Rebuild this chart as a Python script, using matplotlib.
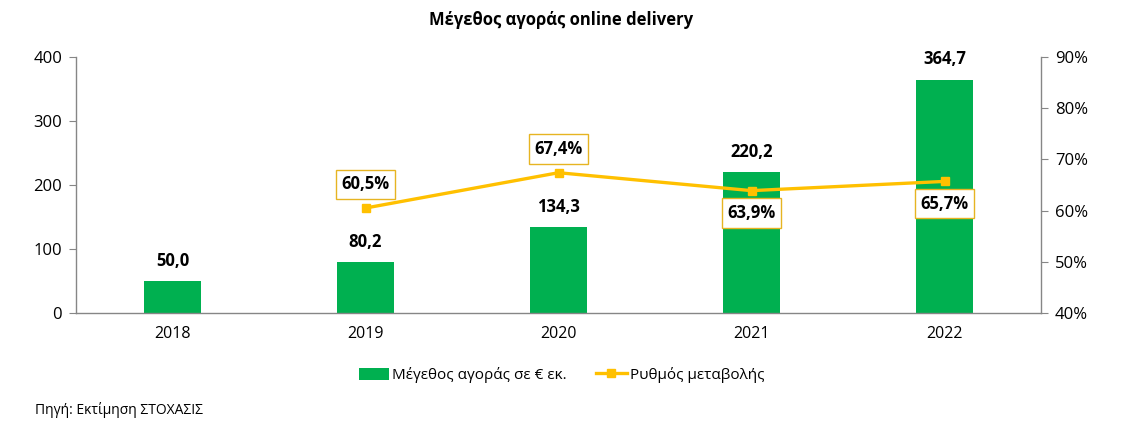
import matplotlib.pyplot as plt
from matplotlib.ticker import FuncFormatter

plt.rcParams['font.family'] = ['Open Sans', 'DejaVu Sans']

# Data
years = ['2018', '2019', '2020', '2021', '2022']
market_size = [50.0, 80.2, 134.3, 220.2, 364.7]
growth_years = ['2019', '2020', '2021', '2022']
growth_rate = [60.5, 67.4, 63.9, 65.7]
growth_label_above = [True, True, False, False]

GREEN = '#00B050'
GOLD = '#FFC000'
GRAY = '#868686'

fig = plt.figure(figsize=(11.23, 4.21), dpi=100)
ax = fig.add_axes([76 / 1123, 1 - 313 / 421, (1041 - 76) / 1123, (313 - 57) / 421])

x = list(range(len(years)))
ax.bar(x, market_size, width=0.3, color=GREEN, label='Μέγεθος αγοράς σε € εκ.', zorder=2)
ax.set_xlim(-0.5, len(years) - 0.5)
ax.set_ylim(0, 400)
ax.set_yticks([0, 100, 200, 300, 400])
ax.set_xticks(x)
ax.set_xticklabels(years)

for xi, v in zip(x, market_size):
    ax.annotate(f'{v:.1f}'.replace('.', ','), (xi, v), xytext=(0, 8), textcoords='offset points',
                ha='center', va='bottom', fontsize=12, fontweight='bold', color='#000000')

ax2 = ax.twinx()
gx = [years.index(y) for y in growth_years]
ax2.plot(gx, growth_rate, color=GOLD, lw=2.4, marker='s', ms=6, label='Ρυθμός μεταβολής', zorder=3)
ax2.set_ylim(40, 90)
ax2.set_yticks([40, 50, 60, 70, 80, 90])
ax2.yaxis.set_major_formatter(FuncFormatter(lambda v, p: f'{v:.0f}%'))

for xi, v, above in zip(gx, growth_rate, growth_label_above):
    off = 17 if above else -16
    ax2.annotate(f'{v:.1f}%'.replace('.', ','), (xi, v), xytext=(0, off), textcoords='offset points',
                 ha='center', va='center', fontsize=12, fontweight='bold', color='#000000',
                 bbox=dict(boxstyle='square,pad=0.35', fc='white', ec='#E6B422', lw=1), zorder=5)

for a in (ax, ax2):
    a.spines['top'].set_visible(False)
    for s in ('left', 'right', 'bottom'):
        a.spines[s].set_color(GRAY)
        a.spines[s].set_linewidth(1)
    a.tick_params(axis='y', colors=GRAY, labelcolor='#000000', labelsize=12, length=5, pad=5)
ax.tick_params(axis='x', length=0, labelsize=11.5, pad=9)
ax.spines['right'].set_visible(False)
ax2.spines['left'].set_visible(False)
ax2.spines['bottom'].set_visible(False)

fig.text(0.5, 1 - 20 / 421, 'Μέγεθος αγοράς online delivery', ha='center', va='center',
         fontsize=12, fontweight='bold')

h1, l1 = ax.get_legend_handles_labels()
h2, l2 = ax2.get_legend_handles_labels()
fig.legend(h1 + h2, l1 + l2, loc='center', bbox_to_anchor=(0.5, 1 - 375 / 421), ncol=2,
           frameon=False, fontsize=11, handlelength=2.0, handleheight=0.8, columnspacing=1.9,
           handletextpad=0.2)

fig.text(35 / 1123, 1 - 410 / 421, 'Πηγή: Εκτίμηση ΣΤΟΧΑΣΙΣ', ha='left', va='center', fontsize=10)

fig.savefig('out.png', dpi=100)
